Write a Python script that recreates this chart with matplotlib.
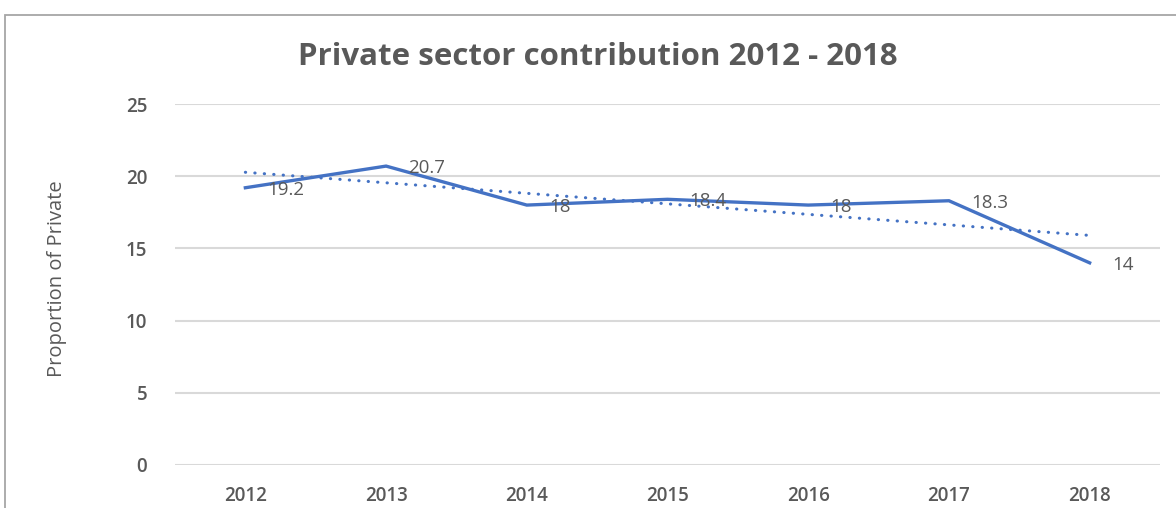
import numpy as np
import matplotlib
matplotlib.use("Agg")
import matplotlib.pyplot as plt
from matplotlib.patches import Rectangle

years = ["2012", "2013", "2014", "2015", "2016", "2017", "2018"]
private_share = [19.2, 20.7, 18.0, 18.4, 18.0, 18.3, 14.0]
value_labels = ["19.2", "20.7", "18", "18.4", "18", "18.3", "14"]
y_ticks = [0, 5, 10, 15, 20, 25]

LINE = "#4472C4"
TEXT = "#595959"
GRID = "#D9D9D9"
FONT = "Open Sans"

W, H = 1176, 508
fig = plt.figure(figsize=(W / 100, H / 100), dpi=100)
fig.patch.set_facecolor("white")

# chart-area frame (right and bottom edges fall outside the canvas)
fig.add_artist(Rectangle((5 / W, -0.1), 1.2, (H - 15) / H + 0.1,
                         transform=fig.transFigure, fill=False,
                         edgecolor="#A6A6A6", linewidth=1.3))

left, right = 175 / W, 1160 / W
bottom, top = (H - 465) / H, (H - 104) / H
ax = fig.add_axes([left, bottom, right - left, top - bottom])

x = np.arange(len(years))
ax.plot(x, private_share, color=LINE, linewidth=2.4, solid_joinstyle="miter",
        zorder=3)

# linear trend line
slope, intercept = np.polyfit(x, private_share, 1)
trend = slope * x + intercept
ax.plot(x, trend, color=LINE, linewidth=2.2, linestyle=(0, (0.1, 3.0)),
        dash_capstyle="round", zorder=2)

for xi, yi, lab in zip(x, private_share, value_labels):
    ax.annotate(lab, (xi, yi), xytext=(16, -1.5), textcoords="offset points",
                ha="left", va="center", fontsize=13.5, color=TEXT,
                family=FONT, zorder=4)

ax.set_xlim(-0.5, len(years) - 0.5)
ax.set_ylim(0, 25)
ax.set_yticks(y_ticks)
ax.set_xticks(x)
ax.set_xticklabels(years)
ax.grid(axis="y", color=GRID, linewidth=1.5)
ax.set_axisbelow(True)
for s in ax.spines.values():
    s.set_visible(False)
ax.tick_params(length=0, colors=TEXT, labelsize=13.5)
ax.tick_params(axis="x", pad=15)
ax.tick_params(axis="y", pad=20)
for t in ax.get_xticklabels() + ax.get_yticklabels():
    t.set_family(FONT)
    t.set_fontweight("semibold")

fig.text(57 / W, 1 - 279 / H, "Proportion of Private", rotation=90,
         ha="center", va="center", fontsize=14.5, color=TEXT, family=FONT)
fig.text(598 / W, 1 - 57 / H, "Private sector contribution 2012 - 2018",
         ha="center", va="center", fontsize=22.5, fontweight="bold",
         color=TEXT, family=FONT)

fig.savefig("out.png", dpi=100, facecolor="white")
